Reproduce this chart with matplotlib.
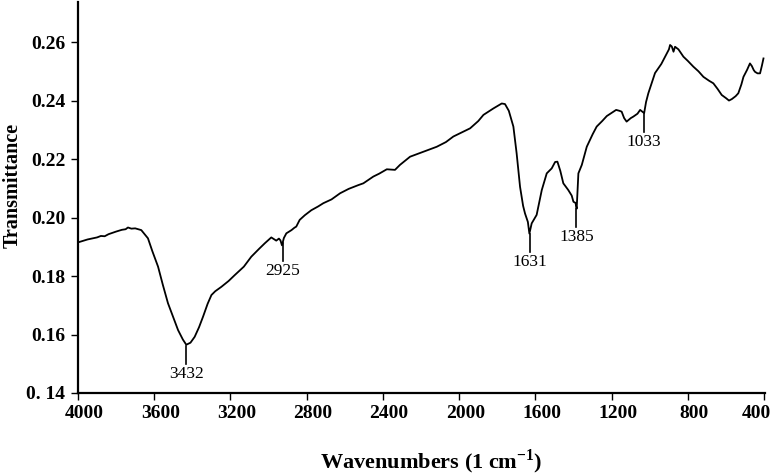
import numpy as np
import matplotlib.pyplot as plt
from matplotlib.transforms import ScaledTranslation

plt.rcParams['font.family'] = ['Liberation Serif', 'DejaVu Serif']
plt.rcParams['mathtext.fontset'] = 'custom'
plt.rcParams['mathtext.rm'] = 'Liberation Serif:bold'

# spectrum (wavenumber in cm-1, transmittance)
wavenumber = [4000, 3950, 3900, 3880, 3860, 3840, 3800, 3770, 3750, 3738, 3720, 3700, 3668,
              3633, 3610, 3580, 3555, 3528, 3500, 3475, 3450, 3432, 3410, 3388, 3365, 3344,
              3320, 3300, 3280, 3248, 3210, 3178, 3130, 3091, 3050, 3020, 2986, 2970, 2960,
              2946, 2938, 2930, 2920, 2907, 2880, 2865, 2855, 2837, 2810, 2776, 2740, 2713,
              2670, 2625, 2580, 2529, 2503, 2451, 2420, 2380, 2337, 2311, 2258, 2188, 2118,
              2070, 2031, 1990, 1943, 1900, 1873, 1821, 1790, 1777, 1760, 1740, 1716, 1699,
              1681, 1665, 1655, 1640, 1632, 1620, 1594, 1567, 1541, 1515, 1497, 1485, 1470,
              1454, 1428, 1410, 1401, 1390, 1384, 1375, 1357, 1331, 1300, 1279, 1250, 1226,
              1177, 1160, 1148, 1135, 1122, 1100, 1087, 1065, 1051, 1040, 1030, 1020, 1008,
              973, 940, 920, 900, 894, 885, 876, 868, 850, 824, 800, 772, 745, 719, 690,
              667, 645, 623, 600, 585, 570, 550, 536, 520, 509, 490, 475, 465, 455, 448,
              435, 422, 412, 404]
transmittance = [0.1915, 0.1925, 0.1932, 0.1937, 0.1936, 0.1943, 0.1952, 0.1958, 0.1960, 0.1966,
                 0.1962, 0.1963, 0.1957, 0.1929, 0.1885, 0.1832, 0.1770, 0.1707, 0.1658, 0.1615,
                 0.1583, 0.1565, 0.1572, 0.1592, 0.1625, 0.1661, 0.1705, 0.1735, 0.1748, 0.1763,
                 0.1783, 0.1803, 0.1832, 0.1866, 0.1893, 0.1912, 0.1932, 0.1925, 0.1921, 0.1928,
                 0.1922, 0.1905, 0.1930, 0.1946, 0.1957, 0.1965, 0.1969, 0.1992, 0.2008, 0.2025,
                 0.2038, 0.2049, 0.2062, 0.2083, 0.2098, 0.2111, 0.2117, 0.2140, 0.2150, 0.2165,
                 0.2163, 0.2180, 0.2208, 0.2225, 0.2242, 0.2258, 0.2277, 0.2290, 0.2305, 0.2330,
                 0.2351, 0.2373, 0.2385, 0.2390, 0.2388, 0.2365, 0.2311, 0.2220, 0.2105, 0.2040,
                 0.2014, 0.1985, 0.1945, 0.1980, 0.2009, 0.2094, 0.2151, 0.2168, 0.2190, 0.2191,
                 0.2160, 0.2117, 0.2094, 0.2075, 0.2054, 0.2050, 0.2030, 0.2151, 0.2180, 0.2242,
                 0.2285, 0.2311, 0.2330, 0.2347, 0.2368, 0.2365, 0.2362, 0.2340, 0.2328, 0.2340,
                 0.2345, 0.2355, 0.2368, 0.2362, 0.2357, 0.2395, 0.2425, 0.2494, 0.2525, 0.2550,
                 0.2575, 0.2590, 0.2585, 0.2567, 0.2584, 0.2575, 0.2550, 0.2535, 0.2516, 0.2500,
                 0.2481, 0.2468, 0.2459, 0.2440, 0.2419, 0.2408, 0.2400, 0.2405, 0.2415, 0.2425,
                 0.2455, 0.2481, 0.2505, 0.2527, 0.2518, 0.2504, 0.2498, 0.2493, 0.2493, 0.2520,
                 0.2544]

peak_wn = [3432, 2925, 1631, 1385, 1033]
peak_labels = ['3432', '2925', '1631', '1385', '1033']

x_ticks = [4000, 3600, 3200, 2800, 2400, 2000, 1600, 1200, 800, 400]
y_ticks = [0.14, 0.16, 0.18, 0.20, 0.22, 0.24, 0.26]
y_tick_labels = ['0. 14', '0.16', '0.18', '0.20', '0.22', '0.24', '0.26']

fig = plt.figure(figsize=(7.74, 4.75), dpi=100)
ax = fig.add_axes([78 / 774, 1 - 393 / 475, 687 / 774, 391 / 475])

ax.plot(wavenumber, transmittance, color='black', lw=1.3)

# peak markers: short vertical line under the dip plus label
wn_asc = np.array(wavenumber[::-1])
tr_asc = np.array(transmittance[::-1])
for wn, lab in zip(peak_wn, peak_labels):
    y0 = np.interp(wn, wn_asc, tr_asc) - 0.0004
    ax.plot([wn, wn], [y0, y0 - 0.0062], color='black', lw=1.2)
    ax.text(wn, y0 - 0.0068, lab, ha='center', va='top', fontsize=12.5)

ax.set_xlim(4000, 396)
ax.set_ylim(0.14, 0.2737)
ax.set_xticks(x_ticks)
ax.set_xticklabels([str(t) for t in x_ticks], fontsize=14, fontweight='bold')
ax.set_yticks(y_ticks)
ax.set_yticklabels(y_tick_labels, fontsize=14, fontweight='bold')
ax.tick_params(direction='out', length=5, width=1, pad=4)

# labels in the original sit a little right of their ticks, last one pulled in
for i, lbl in enumerate(ax.get_xticklabels()):
    dx = -0.08 if i == len(x_ticks) - 1 else 0.06
    lbl.set_transform(lbl.get_transform() + ScaledTranslation(dx, 0, fig.dpi_scale_trans))

for side in ['top', 'right']:
    ax.spines[side].set_visible(False)
for side in ['left', 'bottom']:
    ax.spines[side].set_linewidth(1.6)

ax.set_xlabel(r'Wavenumbers (1 cm$^{\mathregular{-1}}$)', fontsize=16, fontweight='bold', labelpad=18)
ax.xaxis.set_label_coords(0.514, -0.14)
ax.set_ylabel('Transmittance', fontsize=14.5, fontweight='bold')
ax.yaxis.set_label_coords(-55 / 687, 0.53)

fig.savefig('out.png', dpi=100)
